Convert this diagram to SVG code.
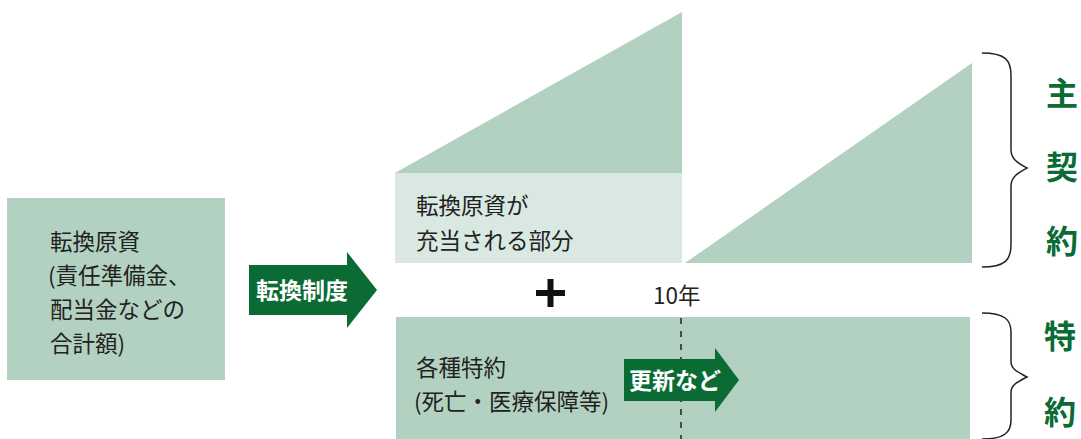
<svg xmlns="http://www.w3.org/2000/svg" width="1081" height="439" viewBox="0 0 1081 439">
<style>
.mid{fill:#b3d1c1}
.light{fill:#d9e8e0}
.dark{fill:#0b6b35}
.t{font-family:"Noto Sans CJK JP","Noto Sans",sans-serif;font-size:22.5px;fill:#222}
.w{font-family:"Noto Sans CJK JP","Noto Sans",sans-serif;font-size:23px;fill:#fff;font-weight:bold}
.g{font-family:"Noto Sans CJK JP","Noto Sans",sans-serif;font-size:32px;fill:#0b6b35;font-weight:bold}
.brace{fill:none;stroke:#222;stroke-width:1.5}
</style>
<rect width="1081" height="439" fill="#fff"/>
<g id="source">
<rect class="mid" x="7" y="198" width="218" height="182"/>
<text class="t" x="50" y="250">転換原資</text>
<text class="t" x="48" y="284">(責任準備金、</text>
<text class="t" x="50" y="318">配当金などの</text>
<text class="t" x="50" y="352">合計額)</text>
</g>
<g id="conversion-arrow">
<polygon class="dark" points="249,265 347,265 347,252 377,290 347,328 347,315 249,315"/>
<text class="w" x="302" y="299" text-anchor="middle">転換制度</text>
</g>
<g id="main-old">
<polygon class="mid" points="395,173 682,12 682,173"/>
<rect class="light" x="395" y="173" width="287" height="90"/>
<text class="t" x="416" y="214">転換原資が</text>
<text class="t" x="416" y="249">充当される部分</text>
</g>
<g id="main-new">
<polygon class="mid" points="685,263 972,63 972,263"/>
</g>
<g id="plus">
<rect x="536" y="290" width="29" height="6" fill="#111"/>
<rect x="547.5" y="279" width="6" height="28" fill="#111"/>
</g>
<text class="t" x="653" y="304">10年</text>
<g id="riders">
<rect class="mid" x="396" y="317" width="574" height="122"/>
<text class="t" x="416" y="376">各種特約</text>
<text class="t" x="414" y="410">(死亡・医療保障等)</text>
</g>
<g id="connectors">
<line x1="681" y1="318" x2="681" y2="439" stroke="#222" stroke-width="1.5" stroke-dasharray="6,7"/>
</g>
<g id="renew-arrow">
<polygon class="dark" points="624,359 715,359 715,348 739,380 715,412 715,401 624,401"/>
<text class="w" x="629" y="389">更新など</text>
</g>
<g id="brace-main">
<path class="brace" d="M982,53 C1005,53 1011,60 1011,75 L1011,150 C1011,160 1020,164 1027,168 C1020,172 1011,176 1011,186 L1011,245 C1011,260 1005,267 982,267"/>
<text class="g" x="1062" y="105" text-anchor="middle">主</text>
<text class="g" x="1062" y="179" text-anchor="middle">契</text>
<text class="g" x="1062" y="253" text-anchor="middle">約</text>
</g>
<g id="brace-rider">
<path class="brace" d="M982,313 C1005,313 1011,320 1011,332 L1011,362 C1011,370 1020,373 1027,377 C1020,381 1011,384 1011,392 L1011,420 C1011,432 1005,439 982,439"/>
<text class="g" x="1060" y="348" text-anchor="middle">特</text>
<text class="g" x="1060" y="424" text-anchor="middle">約</text>
</g>
</svg>
